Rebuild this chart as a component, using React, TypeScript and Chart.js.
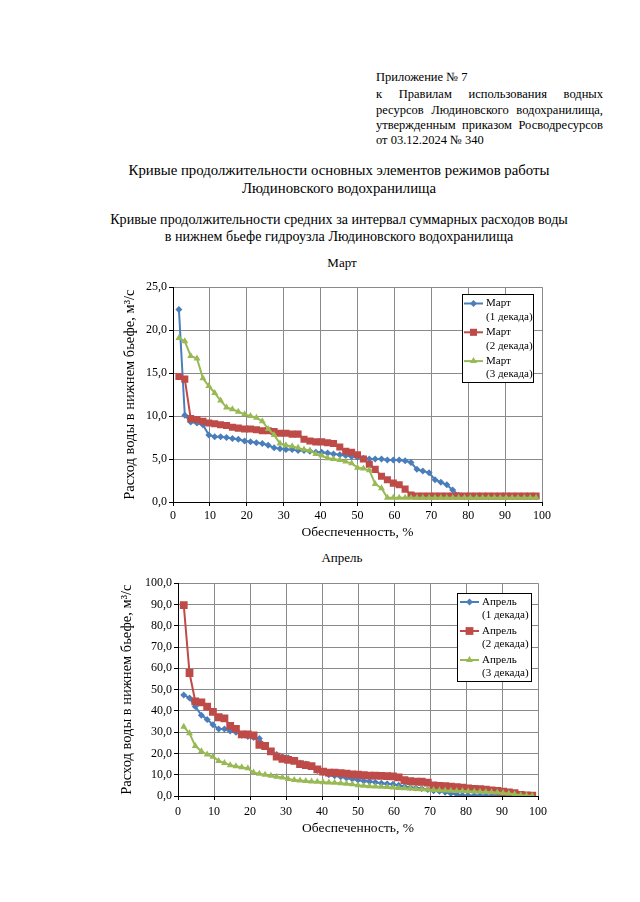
import React, { useEffect, useRef } from 'react';
import { Chart, registerables } from 'chart.js';

Chart.register(...registerables);

const FONT = "'Liberation Serif', 'Times New Roman', serif";

// Обеспеченность, % (x values)
const probability = [
  1.6, 3.2, 4.8, 6.5, 8.1, 9.7, 11.3, 12.9, 14.5, 16.1, 17.7, 19.4, 21.0, 22.6, 24.2, 25.8,
  27.4, 29.0, 30.6, 32.3, 33.9, 35.5, 37.1, 38.7, 40.3, 41.9, 43.5, 45.2, 46.8, 48.4, 50.0,
  51.6, 53.2, 54.8, 56.5, 58.1, 59.7, 61.3, 62.9, 64.5, 66.1, 67.7, 69.4, 71.0, 72.6, 74.2,
  75.8, 77.4, 79.0, 80.6, 82.3, 83.9, 85.5, 87.1, 88.7, 90.3, 91.9, 93.5, 95.2, 96.8, 98.4,
];

const marchDecade1 = [
  22.4, 10.1, 9.3, 9.2, 9.0, 7.8, 7.6, 7.6, 7.5, 7.4, 7.3, 7.1, 7.0, 6.9, 6.8, 6.6,
  6.3, 6.2, 6.1, 6.1, 6.0, 6.0, 5.9, 5.8, 5.8, 5.7, 5.6, 5.5, 5.4, 5.3, 5.2,
  5.1, 5.0, 5.0, 5.0, 4.9, 4.9, 4.9, 4.8, 4.6, 3.8, 3.6, 3.4, 2.6, 2.3, 2.0,
  1.4, 0.8, 0.6, 0.6, 0.6, 0.6, 0.6, 0.6, 0.6, 0.6, 0.6, 0.6, 0.6, 0.6, 0.6,
];
const marchDecade2 = [
  14.6, 14.3, 9.7, 9.6, 9.4, 9.2, 9.1, 9.0, 8.9, 8.7, 8.6, 8.5, 8.5, 8.4, 8.3, 8.3,
  8.2, 8.0, 8.0, 7.9, 7.9, 7.3, 7.1, 7.0, 7.0, 6.9, 6.8, 6.4, 5.9, 5.8, 5.5,
  5.0, 4.4, 3.8, 3.0, 2.6, 2.2, 2.0, 1.5, 0.8, 0.7, 0.7, 0.7, 0.7, 0.7, 0.7,
  0.7, 0.7, 0.7, 0.7, 0.7, 0.7, 0.7, 0.7, 0.7, 0.7, 0.7, 0.7, 0.7, 0.7, 0.7,
];
const marchDecade3 = [
  19.1, 18.7, 17.0, 16.7, 14.4, 13.5, 12.7, 11.8, 11.0, 10.8, 10.5, 10.2, 10.0, 9.8, 9.4, 8.5,
  7.8, 6.8, 6.6, 6.5, 6.3, 6.1, 6.0, 5.6, 5.4, 5.1, 5.0, 4.9, 4.7, 4.5, 4.0,
  3.9, 3.7, 2.1, 1.6, 0.5, 0.5, 0.5, 0.5, 0.5, 0.5, 0.5, 0.5, 0.5, 0.5, 0.5,
  0.5, 0.5, 0.5, 0.5, 0.5, 0.5, 0.5, 0.5, 0.5, 0.5, 0.5, 0.5, 0.5, 0.5, 0.5,
];

const aprilDecade1 = [
  47.5, 46.0, 42.0, 38.0, 36.0, 33.5, 31.5, 31.5, 30.5, 30.0, 28.5, 28.0, 27.5, 27.0, 23.5, 21.0,
  19.5, 18.5, 18.0, 16.5, 15.5, 15.0, 14.0, 12.0, 11.0, 10.0, 9.5, 9.0, 8.5, 8.0, 7.5,
  7.0, 6.8, 6.5, 6.0, 5.8, 5.5, 5.0, 4.5, 4.0, 3.8, 3.5, 3.0, 2.5, 2.2, 1.8,
  1.2, 0.8, 0.3, 0.2, 0.2, 0.2, 0.1, 0.1, 0.1, 0.1, 0.1, 0.0, 0.0, 0.0, 0.0,
];
const aprilDecade2 = [
  89.7, 57.8, 44.5, 44.0, 42.0, 39.5, 37.0, 36.5, 33.0, 31.5, 29.0, 29.0, 28.5, 24.0, 23.5, 21.0,
  18.5, 17.5, 17.0, 16.5, 15.0, 14.5, 14.0, 12.5, 11.5, 11.0, 11.0, 10.8, 10.5, 10.2, 10.0,
  9.8, 9.6, 9.6, 9.5, 9.3, 9.2, 8.8, 7.5, 7.0, 6.8, 6.7, 6.3, 5.0, 4.8, 4.6,
  4.4, 4.2, 3.9, 3.6, 3.4, 3.2, 3.0, 2.6, 2.4, 2.0, 1.7, 1.3, 0.5, 0.3, 0.2,
];
const aprilDecade3 = [
  32.5, 29.5, 23.5, 21.0, 19.5, 18.5, 16.5, 15.5, 14.5, 14.0, 13.5, 13.0, 11.0, 10.5, 10.0, 9.5,
  9.0, 8.7, 8.0, 7.5, 7.3, 7.0, 6.8, 6.7, 6.5, 6.3, 6.2, 6.0, 5.8, 5.5, 5.0,
  4.8, 4.6, 4.5, 4.3, 4.2, 4.0, 3.8, 3.6, 3.5, 3.3, 3.2, 3.0, 2.8, 2.7, 2.6,
  2.5, 2.4, 2.3, 2.2, 2.1, 2.0, 1.9, 1.8, 1.6, 1.4, 1.2, 0.8, 0.4, 0.2, 0.1,
];

const decadeLabels = ['(1 декада)', '(2 декада)', '(3 декада)'];
const xTitle = 'Обеспеченность, %';
const yTitle = 'Расход воды в нижнем бьефе, м³/с';

const BLUE = '#4A7EBB';
const RED = '#BE4B48';
const GREEN = '#98B954';

type Cfg = {
  month: string;
  series: number[][];
  yMax: number;
  yStep: number;
  padTop: number;
  padRight: number;
  yWidth: number;
  xHeight: number;
  yTitlePad: number;
  yTickPad: number;
  xTickPad: number;
  xTitlePad: number;
  sizes: number[];
  legend: {
    right: number; top: number; width: number; height: number;
    firstY: number; second: number; step: number; lineX0: number; lineX1: number; textX: number;
  };
};

function drawMarker(ctx: CanvasRenderingContext2D, style: string, x: number, y: number, r: number) {
  ctx.beginPath();
  if (style === 'rectRot') {
    ctx.moveTo(x, y - r); ctx.lineTo(x + r, y); ctx.lineTo(x, y + r); ctx.lineTo(x - r, y);
  } else if (style === 'rect') {
    const s = r * Math.SQRT1_2;
    ctx.rect(x - s, y - s, 2 * s, 2 * s);
  } else {
    ctx.moveTo(x, y - r); ctx.lineTo(x + r * 0.87, y + r * 0.5); ctx.lineTo(x - r * 0.87, y + r * 0.5);
  }
  ctx.closePath();
  ctx.fill();
}

function ChartBox({ cfg, style }: { cfg: Cfg; style: React.CSSProperties }) {
  const ref = useRef<HTMLCanvasElement | null>(null);
  useEffect(() => {
    if (!ref.current) return;
    const colors = [BLUE, RED, GREEN];
    const styles = ['rectRot', 'rect', 'triangle'];
    const orders = [2, 1, 0];
    const L = cfg.legend;
    const legendPlugin = {
      id: 'boxLegend',
      afterDraw(chart: any) {
        const ctx = chart.ctx as CanvasRenderingContext2D;
        const ca = chart.chartArea;
        const x0 = Math.round(ca.right - L.right - L.width);
        const y0 = Math.round(ca.top + L.top);
        ctx.save();
        ctx.fillStyle = '#fff';
        ctx.fillRect(x0, y0, L.width, L.height);
        ctx.strokeStyle = '#000';
        ctx.lineWidth = 1;
        ctx.strokeRect(x0 + 0.5, y0 + 0.5, L.width, L.height);
        ctx.font = `11px ${FONT}`;
        ctx.textBaseline = 'middle';
        ctx.textAlign = 'left';
        for (let i = 0; i < 3; i++) {
          const ly = y0 + L.firstY + i * L.step;
          ctx.strokeStyle = colors[i];
          ctx.lineWidth = 2;
          ctx.beginPath();
          ctx.moveTo(x0 + L.lineX0, ly);
          ctx.lineTo(x0 + L.lineX1, ly);
          ctx.stroke();
          ctx.fillStyle = colors[i];
          drawMarker(ctx, styles[i], x0 + (L.lineX0 + L.lineX1) / 2, ly, cfg.sizes[i]);
          ctx.fillStyle = '#000';
          ctx.fillText(cfg.month, x0 + L.textX, ly);
          ctx.fillText(decadeLabels[i], x0 + L.textX, ly + L.second);
        }
        ctx.restore();
      },
    };
    const fmt = (v: any) => Number(v).toFixed(1).replace('.', ',');
    const chart = new Chart(ref.current, {
      type: 'line',
      data: {
        datasets: cfg.series.map((ys, i) => ({
          label: `${cfg.month} ${decadeLabels[i]}`,
          data: ys.map((y, k) => ({ x: probability[k], y })),
          borderColor: colors[i],
          backgroundColor: colors[i],
          pointBackgroundColor: colors[i],
          pointBorderColor: colors[i],
          pointStyle: styles[i],
          pointRadius: cfg.sizes[i],
          pointBorderWidth: 0,
          borderWidth: 2,
          tension: 0,
          order: orders[i],
        })),
      },
      options: {
        responsive: false,
        animation: false,
        devicePixelRatio: 1,
        layout: { padding: { top: cfg.padTop, right: cfg.padRight, left: 0, bottom: 0 } },
        plugins: { legend: { display: false }, tooltip: { enabled: false } },
        scales: {
          x: {
            type: 'linear',
            min: 0,
            max: 100,
            ticks: { stepSize: 10, color: '#000', font: { family: FONT, size: 12 }, padding: cfg.xTickPad, maxRotation: 0, autoSkip: false },
            grid: { color: '#8a8a8a', lineWidth: 1, tickLength: 4, tickColor: '#000' },
            border: { color: '#000', width: 1 },
            title: { display: true, text: xTitle, color: '#000', font: { family: FONT, size: 13.5 }, padding: { top: 0, bottom: cfg.xTitlePad } },
            afterFit: (s: any) => { s.height = cfg.xHeight; },
          },
          y: {
            type: 'linear',
            min: 0,
            max: cfg.yMax,
            ticks: { stepSize: cfg.yStep, color: '#000', font: { family: FONT, size: 12 }, padding: cfg.yTickPad, callback: fmt },
            grid: { color: '#8a8a8a', lineWidth: 1, tickLength: 4, tickColor: '#000' },
            border: { color: '#000', width: 1 },
            title: { display: true, text: yTitle, color: '#000', font: { family: FONT, size: 14.5 }, padding: { top: cfg.yTitlePad, bottom: 0 } },
            afterFit: (s: any) => { s.width = cfg.yWidth; },
          },
        },
      } as any,
      plugins: [legendPlugin],
    });
    return () => chart.destroy();
  }, [cfg]);
  return <canvas ref={ref} width={460} height={265} style={{ position: 'absolute', width: 460, height: 265, ...style }} />;
}

const marchCfg: Cfg = {
  month: 'Март',
  series: [marchDecade1, marchDecade2, marchDecade3],
  yMax: 25,
  yStep: 5,
  padTop: 7,
  padRight: 18,
  yWidth: 73,
  xHeight: 41,
  yTitlePad: 21,
  yTickPad: 2,
  xTickPad: 3,
  xTitlePad: 2,
  sizes: [3.5, 5, 4],
  legend: { right: 9, top: 7, width: 71, height: 88, firstY: 9.5, second: 13.5, step: 28.8, lineX0: 2, lineX1: 21, textX: 24 },
};

const aprilCfg: Cfg = {
  month: 'Апрель',
  series: [aprilDecade1, aprilDecade2, aprilDecade3],
  yMax: 100,
  yStep: 10,
  padTop: 7,
  padRight: 22,
  yWidth: 78,
  xHeight: 43,
  yTitlePad: 18,
  yTickPad: 2,
  xTickPad: 5,
  xTitlePad: 2,
  sizes: [3.5, 5.5, 4],
  legend: { right: 7, top: 10, width: 74, height: 88, firstY: 9, second: 13.5, step: 29, lineX0: 3, lineX1: 22, textX: 25 },
};

const abs = (top: number, extra: React.CSSProperties = {}): React.CSSProperties => ({
  position: 'absolute',
  top,
  whiteSpace: 'nowrap',
  ...extra,
});

const HDR: React.CSSProperties = { left: 376, width: 227, fontSize: 12.5, lineHeight: '16px' };

function JustLine({ top, text }: { top: number; text: string }) {
  return (
    <div style={{ ...abs(top, HDR), display: 'flex', justifyContent: 'space-between' }}>
      {text.split(' ').map((w, i) => (
        <span key={i}>{w}</span>
      ))}
    </div>
  );
}

export default function App() {
  const center = (size: number): React.CSSProperties => ({ left: 39, width: 600, textAlign: 'center', fontSize: size, lineHeight: '20px' });
  return (
    <div style={{ position: 'absolute', left: 0, top: 0, width: 640, height: 902, background: '#fff', color: '#000', fontFamily: FONT, overflow: 'hidden' }}>
      <div style={abs(68.5, HDR)}>Приложение № 7</div>
      <JustLine top={86} text="к Правилам использования водных" />
      <JustLine top={101.5} text="ресурсов Людиновского водохранилища," />
      <JustLine top={116.5} text="утвержденным приказом Росводресурсов" />
      <div style={abs(131.5, HDR)}>от 03.12.2024 № 340</div>

      <div style={abs(160, center(14.8))}>Кривые продолжительности основных элементов режимов работы</div>
      <div style={abs(178, center(14.8))}>Людиновского водохранилища</div>

      <div style={abs(209, center(14.1))}>Кривые продолжительности средних за интервал суммарных расходов воды</div>
      <div style={abs(226, center(14.1))}>в нижнем бьефе гидроузла Людиновского водохранилища</div>

      <div style={abs(253, { left: 42, width: 600, textAlign: 'center', fontSize: 13, lineHeight: '20px' })}>Март</div>
      <ChartBox cfg={marchCfg} style={{ left: 100, top: 278 }} />

      <div style={abs(548, { left: 42, width: 600, textAlign: 'center', fontSize: 13, lineHeight: '20px' })}>Апрель</div>
      <ChartBox cfg={aprilCfg} style={{ left: 100, top: 574 }} />
    </div>
  );
}
